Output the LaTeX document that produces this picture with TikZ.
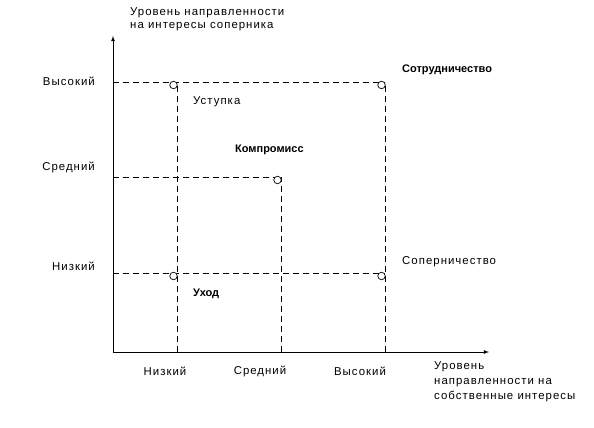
\documentclass[tikz,border=0pt]{standalone}
\usepackage{fontspec}
\setmainfont{Liberation Sans}
\newfontfamily\spacedfont[LetterSpace=9]{Liberation Sans}
\usepackage{tikz}
\usetikzlibrary{arrows}

\tikzset{
    lbl/.style={inner sep=0pt, font=\spacedfont\fontsize{11.4}{13}\selectfont},
    boldlbl/.style={inner sep=0pt, font=\fontsize{11}{13}\selectfont\bfseries},
    grid line/.style={dashed, dash pattern=on 6pt off 4pt, line width=0.8pt},
    axis/.style={->, >=latex, line width=0.8pt},
    point/.style={circle, draw, fill=white, line width=0.7pt, inner sep=0pt, minimum size=7.5pt}
}

\begin{document}
\begin{tikzpicture}[x=1pt, y=1pt]
    \useasboundingbox (0,0) rectangle (594,428);
    % axes
    \coordinate (O)    at (113,76);
    \coordinate (ytop) at (113,392);
    \coordinate (xend) at (489,76);
    % levels on the axes
    \coordinate (yh) at (113,346);
    \coordinate (ym) at (113,251);
    \coordinate (yl) at (113,155);
    \coordinate (xl) at (177,76);
    \coordinate (xm) at (281,76);
    \coordinate (xh) at (385,76);
    % corners
    \coordinate (lh) at (177,346);
    \coordinate (hh) at (385,346);
    \coordinate (mm) at (281,251);
    \coordinate (ll) at (177,155);
    \coordinate (hl) at (385,155);

    \path
        (yh) edge [grid line] (hh)
        (ym) edge [grid line] (mm)
        (yl) edge [grid line] (hl)
        (xl) edge [grid line] (lh)
        (xm) edge [grid line] (mm)
        (xh) edge [grid line] (hh)
        ;
    \draw[axis] (O) -- (ytop);
    \draw[axis] (O) -- (xend);

    \node[point] (p1) at (173.5,343) {};
    \node[point] (p2) at (381.5,343) {};
    \node[point] (p3) at (277.5,248) {};
    \node[point] (p4) at (173.5,152) {};
    \node[point] (p5) at (381.5,152) {};

    \node[lbl, anchor=north west, align=left] (ytitle) at (130,421)
        {Уровень направленности\\на интересы соперника};
    \node[lbl, anchor=north west, align=left, font=\spacedfont\fontsize{11.4}{15}\selectfont]
        (xtitle) at (434,67)
        {Уровень\\направленности на\\собственные интересы};

    \node[lbl, anchor=east] (yhigh) at (95,347) {Высокий};
    \node[lbl, anchor=east] (ymid)  at (95,261) {Средний};
    \node[lbl, anchor=east] (ylow)  at (95,162) {Низкий};
    \node[lbl] (xlow)  at (165,57) {Низкий};
    \node[lbl] (xmid)  at (260,57) {Средний};
    \node[lbl] (xhigh) at (360,57) {Высокий};

    \node[boldlbl, anchor=west] (coop)  at (402,358) {Сотрудничество};
    \node[lbl, anchor=west]     (conc)  at (193,326) {Уступка};
    \node[boldlbl, anchor=west] (comp)  at (235,278) {Компромисс};
    \node[lbl, anchor=west]     (rival) at (402,166) {Соперничество};
    \node[boldlbl, anchor=west] (avoid) at (193,134) {Уход};
\end{tikzpicture}
\end{document}
